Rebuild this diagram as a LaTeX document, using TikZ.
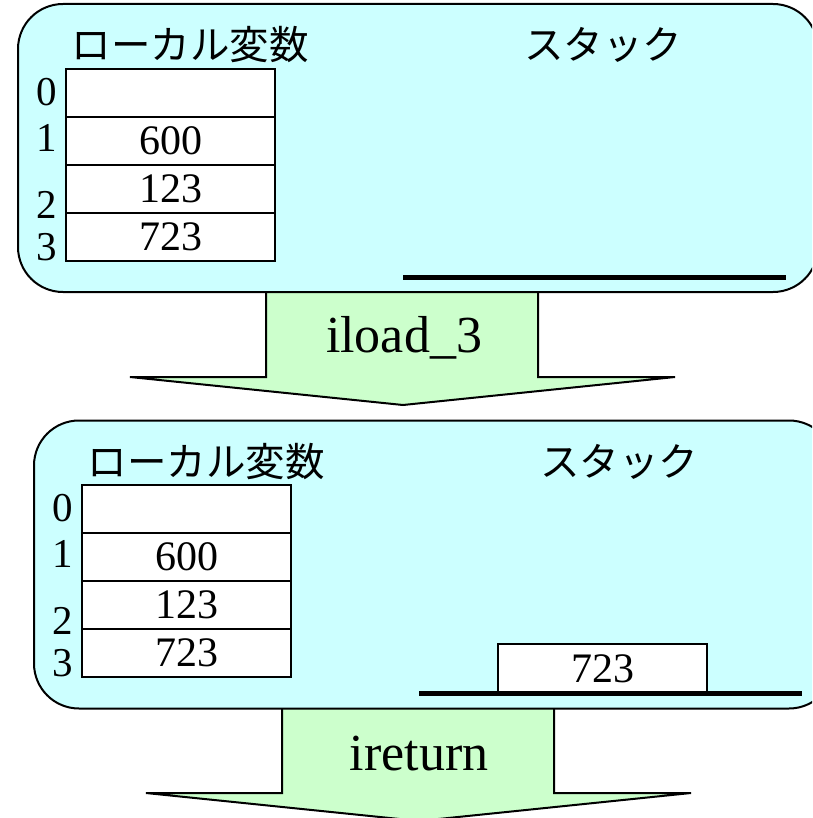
\documentclass[tikz,border=0pt]{standalone}
\usepackage{fontspec}
\setmainfont{Liberation Serif}
\newfontfamily\jpfont{Noto Sans CJK JP}
\definecolor{panelcyan}{HTML}{CCFFFF}
\definecolor{arrowgreen}{HTML}{CCFFCC}
\begin{document}
\begin{tikzpicture}[x=1pt,y=-1pt,
  panel/.style={draw=black,line width=2pt,fill=panelcyan,rounded corners=45pt,
    minimum width=800pt,minimum height=288pt,inner sep=0pt},
  cell/.style={draw=black,line width=2pt,fill=white,minimum width=209pt,
    minimum height=48pt,inner sep=0pt,font=\fontsize{42}{46}\selectfont},
  idx/.style={inner sep=0pt,font=\fontsize{41}{45}\selectfont},
  jptitle/.style={inner sep=0pt,font=\jpfont\fontsize{39.5}{43}\selectfont},
  blockarrow/.style={fill=arrowgreen,draw=black,line width=2pt,line join=miter},
  oplabel/.style={inner sep=0pt,font=\fontsize{52}{58}\selectfont},
  stackline/.style={line width=5pt,draw=black}
]
\useasboundingbox (0,0) rectangle (812,818);
\clip (0,0) rectangle (812,818);

% ---------- arrow 1 (behind panel 1)
\coordinate (a1s) at (266,290);
\coordinate (a1b) at (266,377);
\coordinate (a1l) at (130,377);
\coordinate (a1t) at (403,405);
\coordinate (a1r) at (675,377);
\coordinate (a1c) at (538,377);
\coordinate (a1e) at (538,290);
\path[blockarrow] (a1s) -- (a1b) -- (a1l) -- (a1t) -- (a1r) -- (a1c) -- (a1e);
\node[oplabel] (op1) at (404,338) {iload\_3};

% ---------- panel 1
\node[panel] (p1) at (418,148) {};
\node[jptitle] (lv1) at (190,45) {ローカル変数};
\node[jptitle] (st1) at (603,45) {スタック};
\node[cell] (c10) at (170.5,93) {};
\node[cell] (c11) at (170.5,141) {600};
\node[cell] (c12) at (170.5,189) {123};
\node[cell] (c13) at (170.5,237) {723};
\node[idx] (i10) at (47,92) {0};
\node[idx] (i11) at (47,138) {1};
\node[idx] (i12) at (47,205) {2};
\node[idx] (i13) at (47,247) {3};
\coordinate (s1l) at (403,277);
\coordinate (s1r) at (786,277);
\draw[stackline] (s1l) -- (s1r);

% ---------- arrow 2 (behind panel 2)
\coordinate (a2s) at (282,706);
\coordinate (a2b) at (282,793);
\coordinate (a2l) at (146,793);
\coordinate (a2t) at (419,821);
\coordinate (a2r) at (691,793);
\coordinate (a2c) at (554,793);
\coordinate (a2e) at (554,706);
\path[blockarrow] (a2s) -- (a2b) -- (a2l) -- (a2t) -- (a2r) -- (a2c) -- (a2e);
\node[oplabel] (op2) at (419,754) {ireturn};

% ---------- panel 2
\node[panel] (p2) at (434,564.5) {};
\node[jptitle] (lv2) at (206,462) {ローカル変数};
\node[jptitle] (st2) at (619,462) {スタック};
\node[cell] (c20) at (186.5,509) {};
\node[cell] (c21) at (186.5,557) {600};
\node[cell] (c22) at (186.5,605) {123};
\node[cell] (c23) at (186.5,653) {723};
\node[idx] (i20) at (63,508) {0};
\node[idx] (i21) at (63,554) {1};
\node[idx] (i22) at (63,621) {2};
\node[idx] (i23) at (63,663) {3};
\node[cell,minimum width=209pt,minimum height=49pt] (sv) at (602.5,668.5) {723};
\coordinate (s2l) at (419,693);
\coordinate (s2r) at (802,693);
\draw[stackline] (s2l) -- (s2r);
\end{tikzpicture}
\end{document}
